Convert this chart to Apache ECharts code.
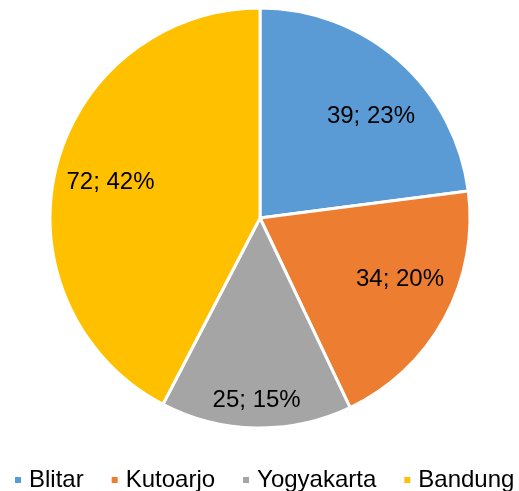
<!DOCTYPE html>
<html>
<head>
<meta charset="utf-8">
<script src="https://cdn.jsdelivr.net/npm/echarts@6/dist/echarts.min.js"></script>
<style>
  html, body { margin: 0; padding: 0; background: #fff; }
  #main { width: 519px; height: 491px; }
</style>
</head>
<body>
<div id="main"></div>
<script>
  // data
  const categories = ['Blitar', 'Kutoarjo', 'Yogyakarta', 'Bandung'];
  const values = [39, 34, 25, 72];
  const percents = [23, 20, 15, 42];
  const colors = ['#5B9BD5', '#ED7D31', '#A5A5A5', '#FFC000'];

  const chart = echarts.init(document.getElementById('main'));
  const font = 'Liberation Sans, Arial, sans-serif';

  const pieData = categories.map((name, i) => ({
    name: name,
    value: values[i],
    itemStyle: { color: colors[i] }
  }));

  // nudges so labels sit where Excel put them
  const labelOffsets = [[8, 16], [3, -13], [0, 0], [2, 1]];

  // label-only overlay, so labels sit further out than half radius
  function labelLayer(radius, show) {
    return {
      type: 'pie',
      silent: true,
      center: [260, 218],
      radius: [0, radius],
      startAngle: 90,
      clockwise: true,
      legendHoverLink: false,
      itemStyle: { color: 'rgba(0,0,0,0)', borderWidth: 0 },
      labelLine: { show: false },
      data: categories.map((name, i) => ({
        name: name,
        value: values[i],
        label: {
          show: show(i),
          position: 'inside',
          offset: labelOffsets[i],
          formatter: values[i] + '; ' + percents[i] + '%',
          color: '#000',
          fontSize: 24,
          fontFamily: font
        }
      }))
    };
  }

  chart.setOption({
    animation: false,
    color: colors,
    legend: {
      bottom: -6,
      left: 8,
      padding: [5, 0, 5, 5],
      icon: 'rect',
      itemWidth: 8,
      itemHeight: 8,
      itemGap: 26,
      textStyle: { fontSize: 24, fontFamily: font, color: '#000', padding: [0, 0, 0, 2] },
      data: categories
    },
    series: [
      {
        type: 'pie',
        center: [260, 218],
        radius: [0, 210],
        startAngle: 90,
        clockwise: true,
        itemStyle: { borderColor: '#fff', borderWidth: 3 },
        label: { show: false },
        labelLine: { show: false },
        data: pieData
      },
      labelLayer(306, i => i !== 2),
      labelLayer(358, i => i === 2)
    ]
  });
</script>
</body>
</html>
